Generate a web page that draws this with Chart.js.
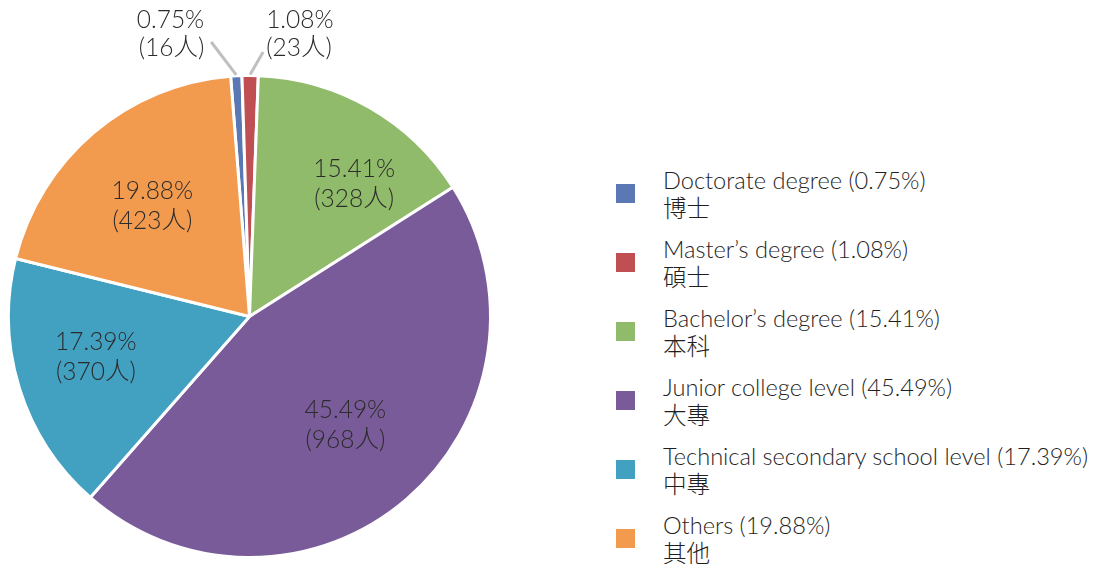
<!DOCTYPE html>
<html>
<head>
<meta charset="utf-8" />
<script src="https://cdn.jsdelivr.net/npm/chart.js@4.4.0/dist/chart.umd.min.js"></script>
<style>
  body{margin:0;background:#fff;width:1096px;height:564px;overflow:hidden;font-family:Lato,'Noto Sans CJK TC',sans-serif;}
  #pieBox{position:absolute;left:0;top:0;width:500px;height:564px;}
  #legend{position:absolute;left:616px;top:159px;}
  .item{display:flex;align-items:center;height:69px;}
  .sw{width:19px;height:19px;margin-right:28px;flex:none;}
  .txt{font-size:23.6px;font-weight:300;line-height:28px;color:#1f1f1f;white-space:nowrap;}
</style>
</head>
<body>
<div id="pieBox"><canvas id="pie"></canvas></div>
<div id="legend"></div>

<script>
// data
const namesEn  = ['Doctorate degree','Master\u2019s degree','Bachelor\u2019s degree','Junior college level','Technical secondary school level','Others'];
const namesZh  = ['博士','碩士','本科','大專','中專','其他'];
const counts   = [16, 23, 328, 968, 370, 423];
const percents = ['0.75%','1.08%','15.41%','45.49%','17.39%','19.88%'];
const colors   = ['#5a78b3','#bf4f53','#90bb6a','#7a5b99','#42a0c0','#f29a4e'];

// where the inside labels sit (fraction of radius, angle nudge in degrees)
const labelRadius = [0, 0, 0.70, 0.60, 0.66, 0.61];
const labelNudge  = [0, 0, 8.5, -1, 2.4, -1.1];

const TXT = '#2b2b2b';
const LEADER = '#bfbfbf';

// legend on the right
const leg = document.getElementById('legend');
namesEn.forEach((n,i)=>{
  const d = document.createElement('div');
  d.className = 'item';
  d.innerHTML = `<div class="sw" style="background:${colors[i]}"></div>
    <div class="txt">${n} (${percents[i]})<br>${namesZh[i]}</div>`;
  leg.appendChild(d);
});

// slice labels: inside for big slices, outside with a leader for tiny ones
const sliceLabels = {
  id:'sliceLabels',
  afterDatasetsDraw(chart){
    const ctx = chart.ctx;
    const meta = chart.getDatasetMeta(0);
    const top = chart.chartArea.top;
    ctx.save();
    ctx.font = '300 24.5px Lato, "Noto Sans CJK TC", sans-serif';
    ctx.fillStyle = TXT;
    ctx.textBaseline = 'middle';
    meta.data.forEach((arc,i)=>{
      const p = arc.getProps(['x','y','startAngle','endAngle','outerRadius'], true);
      const mid = (p.startAngle + p.endAngle)/2;
      const lines = [percents[i], '(' + counts[i] + '人)'];
      if (parseFloat(percents[i]) < 5){
        const side = Math.cos(mid) < 0 ? -1 : 1;
        const sx = p.x + Math.cos(mid)*(p.outerRadius+1);
        const sy = p.y + Math.sin(mid)*(p.outerRadius+1);
        const ex = sx + side*(side<0 ? 25 : 13);
        const ey = side<0 ? top-32 : top-22;
        ctx.strokeStyle = LEADER; ctx.lineWidth = 3;
        ctx.beginPath(); ctx.moveTo(sx,sy); ctx.lineTo(ex,ey); ctx.stroke();
        ctx.textAlign = side<0 ? 'right' : 'left';
        const tx = side<0 ? ex-7 : ex+3;
        ctx.fillText(lines[0], tx, top-54);
        ctx.fillText(lines[1], tx, top-26);
      } else {
        const a = mid + labelNudge[i]*Math.PI/180;
        const r = p.outerRadius*labelRadius[i];
        const cx = p.x + Math.cos(a)*r, cy = p.y + Math.sin(a)*r;
        ctx.textAlign = 'center';
        ctx.fillText(lines[0], cx, cy-15);
        ctx.fillText(lines[1], cx, cy+15);
      }
    });
    ctx.restore();
  }
};

new Chart(document.getElementById('pie'), {
  type:'pie',
  data:{
    labels: namesEn,
    datasets:[{ data: counts, backgroundColor: colors, borderColor:'#ffffff', borderWidth:3 }]
  },
  options:{
    responsive:true, maintainAspectRatio:false, animation:false,
    rotation:-4.5,
    layout:{ padding:{ top:74, bottom:5, left:7, right:8 } },
    plugins:{ legend:{ display:false }, tooltip:{ enabled:false } }
  },
  plugins:[sliceLabels]
});
</script>
</body>
</html>
